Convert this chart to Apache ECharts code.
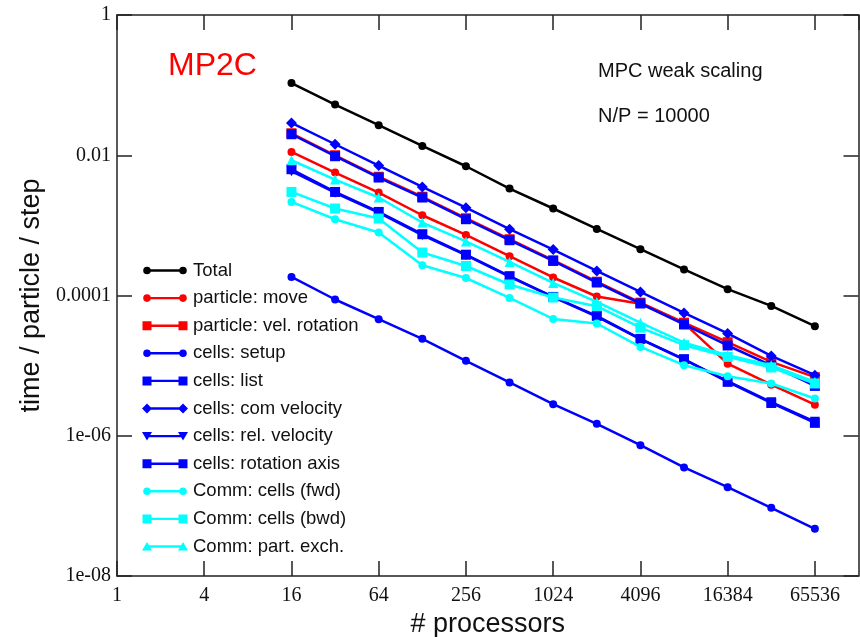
<!DOCTYPE html>
<html>
<head>
<meta charset="utf-8">
<script src="https://cdn.jsdelivr.net/npm/echarts@6/dist/echarts.min.js"></script>
<style>html,body{margin:0;padding:0;background:#fff}#c{width:860px;height:637px}</style>
</head>
<body>
<div id="c"></div>
<script>
// ---- data ----
const processors = [16, 32, 64, 128, 256, 512, 1024, 2048, 4096, 8192, 16384, 32768, 65536];
const total        = [0.107, 0.0528, 0.0268, 0.0136, 0.00697, 0.00335, 0.00174, 0.00089, 0.000457, 0.000235, 0.000123, 7.11e-5, 3.65e-5];
const particleMove = [0.01114, 0.005667, 0.002939, 0.001395, 0.000731, 0.0003633, 0.0001806, 9.68e-5, 7.64e-5, 4.03e-5, 1.066e-5, 5.35e-6, 2.775e-6];
const velRotation  = [0.02059, 0.0100, 0.004936, 0.00256, 0.001264, 0.000635, 0.0003185, 0.0001573, 7.9e-5, 4.095e-5, 2.159e-5, 1.131e-5, 6.84e-6];
const cellsSetup   = [1.84e-4, 8.77e-5, 4.59e-5, 2.41e-5, 1.17e-5, 5.75e-6, 2.82e-6, 1.48e-6, 7.34e-7, 3.53e-7, 1.85e-7, 9.38e-8, 4.71e-8];
const cellsList    = [0.01993, 0.00968, 0.004808, 0.002495, 0.001224, 0.000614, 0.0003112, 0.0001532, 7.69e-5, 3.86e-5, 1.937e-5, 1.005e-5, 5.14e-6];
const comVelocity  = [0.02887, 0.01435, 0.00713, 0.003532, 0.001785, 0.000881, 0.0004525, 0.0002242, 0.0001125, 5.65e-5, 2.873e-5, 1.377e-5, 7.31e-6];
const relVelocity  = [0.005913, 0.00292, 0.001515, 0.0007238, 0.0003754, 0.0001854, 9.46e-5, 4.99e-5, 2.382e-5, 1.215e-5, 6.0e-6, 3.012e-6, 1.589e-6];
const rotationAxis = [0.006317, 0.002997, 0.001555, 0.0007479, 0.0003816, 0.0001884, 9.55e-5, 5.12e-5, 2.405e-5, 1.235e-5, 5.87e-6, 2.934e-6, 1.527e-6];
const commFwd      = [0.002159, 0.001224, 0.000791, 0.0002703, 0.0001777, 9.24e-5, 4.64e-5, 3.99e-5, 1.85e-5, 1.015e-5, 7.07e-6, 5.565e-6, 3.40e-6];
const commBwd      = [0.002997, 0.001739, 0.001252, 0.00041, 0.0002634, 0.0001435, 9.36e-5, 7.04e-5, 3.475e-5, 1.956e-5, 1.332e-5, 9.41e-6, 5.565e-6];
const partExch     = [0.008487, 0.004504, 0.002495, 0.001098, 0.00059, 0.0003013, 0.0001512, 8.11e-5, 4.095e-5, 2.124e-5, 1.409e-5, 1.015e-5, 5.87e-6];

const xTickLabels = ['1', '4', '16', '64', '256', '1024', '4096', '16384', '65536'];
const yTickLabels = ['1e-08', '1e-06', '0.0001', '0.01', '1'];

const seriesNames = ['Total', 'particle: move', 'particle: vel. rotation', 'cells: setup', 'cells: list',
  'cells: com velocity', 'cells: rel. velocity', 'cells: rotation axis', 'Comm: cells (fwd)', 'Comm: cells (bwd)', 'Comm: part. exch.'];
const seriesValues = [total, particleMove, velRotation, cellsSetup, cellsList, comVelocity, relVelocity, rotationAxis, commFwd, commBwd, partExch];

// ---- styles ----
const colors = ['#000000', '#ff0000', '#ff0000', '#0000ff', '#0000ff', '#0000ff', '#0000ff', '#0000ff', '#00ffff', '#00ffff', '#00ffff'];
const shapes = ['circle', 'circle', 'square', 'circle', 'square', 'diamond', 'tridown', 'square', 'circle', 'square', 'triup'];
const symMap = {
  circle: {symbol: 'circle', size: 8, rot: 0},
  square: {symbol: 'rect', size: 10, rot: 0},
  diamond: {symbol: 'diamond', size: 11, rot: 0},
  triup: {symbol: 'triangle', size: 10, rot: 0},
  tridown: {symbol: 'triangle', size: 10, rot: 180}
};
function shapePath(shape, cx) {
  const s = (x) => (x + cx).toFixed(2);
  switch (shape) {
    case 'circle': return `M${s(-3.8)},5 A3.8,3.8 0 1,1 ${s(3.8)},5 A3.8,3.8 0 1,1 ${s(-3.8)},5 Z `;
    case 'square': return `M${s(-4.5)},0.5 L${s(4.5)},0.5 L${s(4.5)},9.5 L${s(-4.5)},9.5 Z `;
    case 'diamond': return `M${s(0)},0 L${s(5)},5 L${s(0)},10 L${s(-5)},5 Z `;
    case 'triup': return `M${s(0)},0.5 L${s(5)},9 L${s(-5)},9 Z `;
    case 'tridown': return `M${s(-5)},1 L${s(5)},1 L${s(0)},9.5 Z `;
  }
}
function legendIcon(shape) {
  return 'path://M0,0 L0,0 M46,10 L46,10 M5,3.8 L41,3.8 L41,6.2 L5,6.2 Z ' + shapePath(shape, 5) + shapePath(shape, 41);
}

const axisColor = '#222';
function xAxisCfg(pos) {
  return {
    type: 'log', logBase: 4, min: 1, max: 131072, position: pos,
    axisLine: {show: true, lineStyle: {color: axisColor, width: 1.5}},
    axisTick: {show: true, inside: true, length: 15, lineStyle: {color: axisColor, width: 1.5}},
    axisLabel: pos === 'bottom' ? {
      show: true, showMaxLabel: false, margin: 10,
      fontFamily: 'Liberation Serif', fontSize: 20, color: '#111',
      formatter: (v) => { const k = Math.round(Math.log(v) / Math.log(4)); return xTickLabels[k] !== undefined ? xTickLabels[k] : ''; }
    } : {show: false},
    splitLine: {show: false},
    name: pos === 'bottom' ? '# processors' : '',
    nameLocation: 'middle', nameGap: 34,
    nameTextStyle: {fontFamily: 'Liberation Sans', fontSize: 27, color: '#111'}
  };
}
function yAxisCfg(pos) {
  return {
    type: 'log', logBase: 100, min: 1e-8, max: 1, position: pos,
    axisLine: {show: true, lineStyle: {color: axisColor, width: 1.5}},
    axisTick: {show: true, inside: true, length: 15, lineStyle: {color: axisColor, width: 1.5}},
    axisLabel: pos === 'left' ? {
      show: true, margin: 6,
      fontFamily: 'Liberation Serif', fontSize: 20, color: '#111',
      formatter: (v) => { const k = Math.round(Math.log10(v) / 2) + 4; return yTickLabels[k] !== undefined ? yTickLabels[k] : ''; }
    } : {show: false},
    splitLine: {show: false},
    name: pos === 'left' ? 'time / particle / step' : '',
    nameLocation: 'middle', nameGap: 68,
    nameTextStyle: {fontFamily: 'Liberation Sans', fontSize: 27, color: '#111'}
  };
}

const series = seriesNames.map((name, i) => {
  const sm = symMap[shapes[i]];
  return {
    name, type: 'line',
    xAxisIndex: 0, yAxisIndex: 0,
    data: processors.map((p, j) => [p, seriesValues[i][j]]),
    symbol: sm.symbol, symbolSize: sm.size, symbolRotate: sm.rot, showAllSymbol: true,
    lineStyle: {color: colors[i], width: 2.5},
    itemStyle: {color: colors[i], borderWidth: 0},
    emphasis: {disabled: true},
    z: 2 + i
  };
});

const chart = echarts.init(document.getElementById('c'), null, {renderer: 'canvas'});
chart.setOption({
  animation: false,
  backgroundColor: '#ffffff',
  grid: {left: 117, right: 1.5, top: 15, bottom: 61, containLabel: false, outerBoundsMode: 'none'},
  xAxis: [xAxisCfg('bottom'), xAxisCfg('top')],
  yAxis: [yAxisCfg('left'), yAxisCfg('right')],
  legend: {
    orient: 'vertical', left: 137, top: 256,
    itemWidth: 46, itemHeight: 10, itemGap: 8.6,
    itemStyle: {borderWidth: 0},
    textStyle: {fontFamily: 'Liberation Sans', fontSize: 18.5, lineHeight: 19, color: '#111', padding: [0, 0, 0, 0]},
    data: seriesNames.map((n, i) => ({name: n, icon: legendIcon(shapes[i])})),
    selectedMode: false
  },
  graphic: [
    {type: 'text', left: 168, top: 50, style: {text: 'MP2C', fill: '#ff0000', font: '32px "Liberation Sans"'}},
    {type: 'text', left: 598, top: 61, style: {text: 'MPC weak scaling', fill: '#111', font: '20px "Liberation Sans"'}},
    {type: 'text', left: 598, top: 106, style: {text: 'N/P = 10000', fill: '#111', font: '20px "Liberation Sans"'}}
  ],
  series
});
</script>
</body>
</html>
